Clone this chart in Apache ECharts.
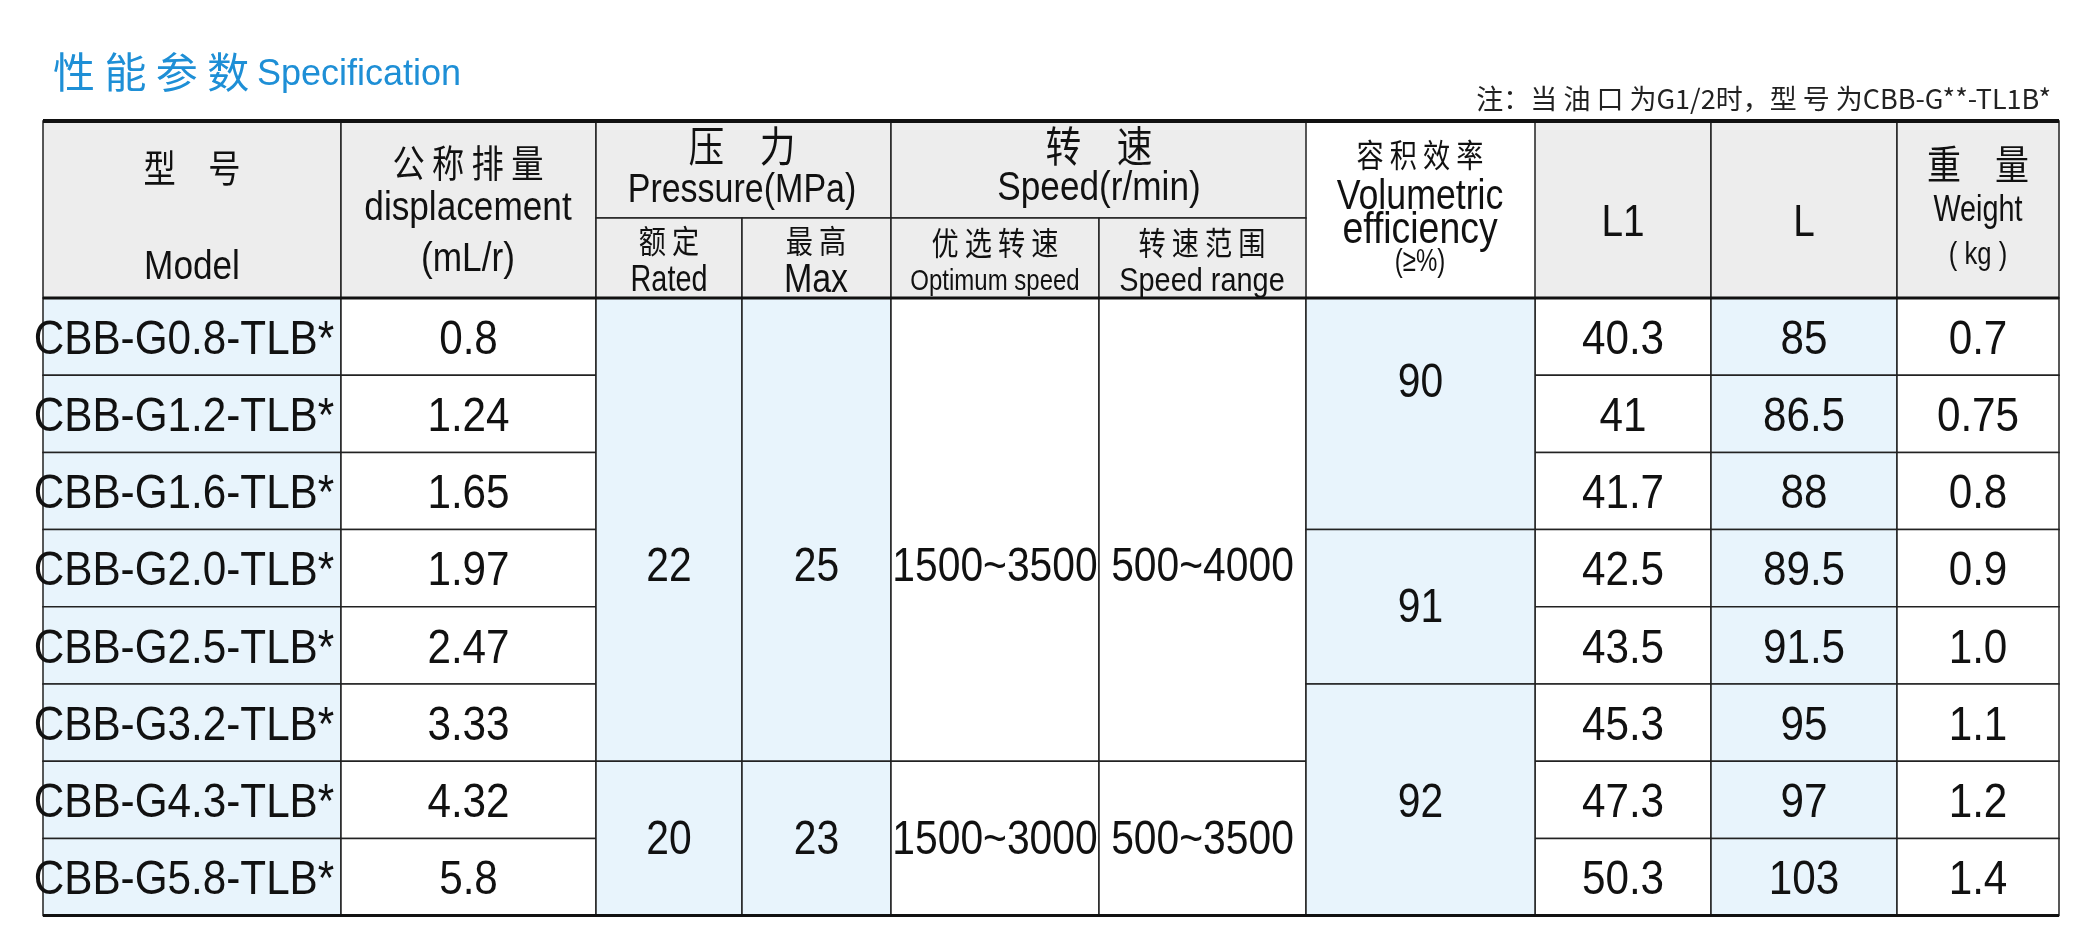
<!DOCTYPE html>
<html><head><meta charset="utf-8">
<script src="https://cdn.jsdelivr.net/npm/echarts@6/dist/echarts.min.js"></script>
<style>html,body{margin:0;padding:0;background:#fff}#c{width:2086px;height:940px}</style>
</head><body><div id="c"></div>
<script>
const models = ['CBB-G0.8-TLB*','CBB-G1.2-TLB*','CBB-G1.6-TLB*','CBB-G2.0-TLB*','CBB-G2.5-TLB*','CBB-G3.2-TLB*','CBB-G4.3-TLB*','CBB-G5.8-TLB*'];
const displacement = ['0.8','1.24','1.65','1.97','2.47','3.33','4.32','5.8'];
const L1 = ['40.3','41','41.7','42.5','43.5','45.3','47.3','50.3'];
const L = ['85','86.5','88','89.5','91.5','95','97','103'];
const weight = ['0.7','0.75','0.8','0.9','1.0','1.1','1.2','1.4'];
// merged groups: [startRow, endRow, value]
const rated = [[0,5,'22'],[6,7,'20']];
const maxP = [[0,5,'25'],[6,7,'23']];
const optSpeed = [[0,5,'1500~3500'],[6,7,'1500~3000']];
const speedRange = [[0,5,'500~4000'],[6,7,'500~3500']];
const volEff = [[0,2,'90'],[3,4,'91'],[5,7,'92']];

// layout
const colEdges = [43,341,596,742,891,1099,1306,1535,1711,1897,2059];
const hTop = 121, hMid = 218, hBot = 298, rowH = 77.2;
const BLUE = '#e8f4fc', GRAY = '#ededed', WHITE = '#ffffff';
const rowY = r => hBot + r*rowH;
const mergedTextShift = {0:38, 6:2}; // label offset for groups starting at row
const volShift = {0:-30, 3:2, 5:4};

const cells = [];
const texts = []; // [x,y,text,size,family,color,scaleX]
const NARROW = '"Liberation Sans Narrow","Liberation Sans",sans-serif';
const CJK = '"Noto Sans CJK SC",sans-serif';
[[0,1],[1,2],[7,8],[8,9],[9,10]].forEach(([a,b])=>cells.push([colEdges[a],colEdges[b],hTop,hBot,GRAY]));
cells.push([colEdges[2],colEdges[4],hTop,hMid,GRAY]);
cells.push([colEdges[4],colEdges[6],hTop,hMid,GRAY]);
for(let c=2;c<6;c++) cells.push([colEdges[c],colEdges[c+1],hMid,hBot,GRAY]);
const singles = [[0,models,BLUE],[1,displacement,WHITE],[7,L1,WHITE],[8,L,BLUE],[9,weight,WHITE]];
singles.forEach(([c,arr,fill])=>arr.forEach((v,r)=>{
  cells.push([colEdges[c],colEdges[c+1],rowY(r),rowY(r+1),fill]);
  texts.push([(colEdges[c]+colEdges[c+1])/2 - (c===0?8:0),(rowY(r)+rowY(r+1))/2+4,v,48,NARROW,'#111',0.88]);
}));
const merged = [[2,rated,BLUE],[3,maxP,BLUE],[4,optSpeed,WHITE],[5,speedRange,WHITE],[6,volEff,BLUE]];
merged.forEach(([c,arr,fill])=>arr.forEach(([s,e,v])=>{
  cells.push([colEdges[c],colEdges[c+1],rowY(s),rowY(e+1),fill]);
  const sh = c===6 ? volShift[s] : mergedTextShift[s];
  texts.push([(colEdges[c]+colEdges[c+1])/2,(rowY(s)+rowY(e+1))/2+sh,v,48,NARROW,'#111',0.85]);
}));
const H = [
 [192,168,'型　号',38,CJK,0.85],[192,268,'Model',40,NARROW,0.88],
 [468,163,'公 称 排 量',38,CJK,0.85],[468,209,'displacement',40,NARROW,0.88],[468,260,'(mL/r)',40,NARROW,0.88],
 [742,146,'压　力',42,CJK,0.85],[742,191,'Pressure(MPa)',40,NARROW,0.85],
 [669,241,'额 定',32,CJK,0.85],[669,281,'Rated',36,NARROW,0.8],[816,241,'最 高',32,CJK,0.85],[816,281,'Max',40,NARROW,0.85],
 [1099,146,'转　速',42,CJK,0.85],[1099,189,'Speed(r/min)',40,NARROW,0.88],
 [995,243,'优 选 转 速',32,CJK,0.85],[995,282,'Optimum speed',30,NARROW,0.8],[1202,243,'转 速 范 围',32,CJK,0.85],[1202,282,'Speed range',34,NARROW,0.85],
 [1420,155,'容 积 效 率',32,CJK,0.85],[1420,197,'Volumetric',42,NARROW,0.85],[1420,231,'efficiency',44,NARROW,0.85],[1420,262,'(≥%)',32,NARROW,0.75],
 [1623,224,'L1',44,NARROW,0.88],[1804,224,'L',44,NARROW,0.88],
 [1978,164,'重　量',40,CJK,0.85],[1978,211,'Weight',36,NARROW,0.8],[1978,255,'( kg )',32,NARROW,0.8]
];
H.forEach(h=>texts.push([h[0],h[1],h[2],h[3],h[4],'#111',h[5]]));

const lines = [[43,121,2059,121,4],[43,298,2059,298,3],[43,915.6,2059,915.6,3]];

const chart = echarts.init(document.getElementById('c'));
chart.setOption({
  animation:false,
  title:[{text:'性 能 参 数',left:48,top:46,textStyle:{fontFamily:CJK,fontSize:42,fontWeight:'normal',color:'#1e8fd6'}},
         {text:'Specification',left:252,top:52,textStyle:{fontFamily:'"Liberation Sans",sans-serif',fontSize:36,fontWeight:'normal',color:'#1e8fd6'}},
         {text:'注：当 油 口 为G1/2时，型 号 为CBB-G**-TL1B*',right:30,top:80,textStyle:{fontFamily:CJK,fontSize:27,fontWeight:'normal',color:'#222'}}],
  grid:{left:0,right:0,top:0,bottom:0},
  xAxis:{type:'value',min:0,max:2086,show:false},
  yAxis:{type:'value',min:0,max:940,inverse:true,show:false},
  series:[
   {type:'custom',data:cells,renderItem:(p,api)=>{
     const a=api.coord([api.value(0),api.value(2)]),b=api.coord([api.value(1),api.value(3)]);
     return {type:'rect',shape:{x:a[0],y:a[1],width:b[0]-a[0],height:b[1]-a[1]},
       style:{fill:cells[p.dataIndex][4],stroke:'#222',lineWidth:1.5}};
   }},
   {type:'custom',data:lines,renderItem:(p,api)=>{
     const a=api.coord([api.value(0),api.value(1)]),b=api.coord([api.value(2),api.value(3)]);
     return {type:'line',shape:{x1:a[0],y1:a[1],x2:b[0],y2:b[1]},style:{stroke:'#111',lineWidth:api.value(4)}};
   }},
   {type:'custom',data:texts.map(t=>[t[0],t[1]]),renderItem:(p,api)=>{
     const t=texts[p.dataIndex];const a=api.coord([t[0],t[1]]);
     return {type:'text',x:a[0],y:a[1],scaleX:t[6],style:{text:t[2],fontSize:t[3],fontFamily:t[4],fill:t[5],align:'center',verticalAlign:'middle'}};
   }}
  ]
});
</script></body></html>
